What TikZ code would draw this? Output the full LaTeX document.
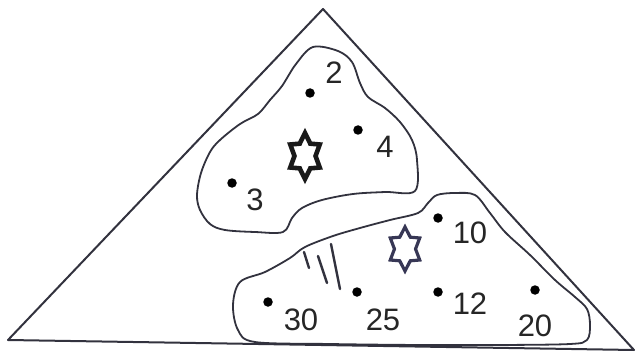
\documentclass[tikz,border=0pt]{standalone}
\usepackage{fontspec}
\setmainfont{Liberation Sans}
\begin{document}
\begin{tikzpicture}[x=1pt,y=-1pt]
\definecolor{ink}{RGB}{50,50,62}
\definecolor{inkb}{RGB}{55,55,85}
\tikzset{
  edge/.style={draw=ink, line width=2pt, line join=round, line cap=round},
  blob/.style={draw=ink, line width=1.8pt, line join=round},
  hatch/.style={draw=ink, line width=2.4pt, line cap=round},
  pt/.style={circle, fill=black, inner sep=0pt, minimum size=9.5pt},
  num/.style={inner sep=0pt, font=\fontsize{31}{31}\selectfont, text=black!85},
  hexstar/.pic={\draw[pic actions] (90:1) -- (120:0.62) -- (150:1) -- (180:0.62) -- (210:1) -- (240:0.62) -- (270:1) -- (300:0.62) -- (330:1) -- (0:0.62) -- (30:1) -- (60:0.62) -- cycle;}
}
\useasboundingbox (0,0) rectangle (638,353);
% triangle
\coordinate (A) at (323,9);
\coordinate (L) at (8,340);
\coordinate (R) at (634,350);
\draw[edge] (A) -- (L) -- (R) -- cycle;
% upper blob
\draw[blob] plot[smooth cycle, tension=0.55] coordinates {
 (313,47) (338,51) (352,62) (360,83) (368,97) (385,108) (400,122) (412,140) (417,160) (415,191)
 (385,192) (353,194) (322,200) (302,208) (292,218) (283,232) (255,232) (225,230) (210,224)
 (200,210) (197,195) (201,173) (210,152) (220,140) (240,124) (258,114) (270,100) (282,86) (296,64)};
% lower blob
\draw[blob] plot[smooth cycle, tension=0.55] coordinates {
 (437,195) (455,193) (475,195) (490,213) (505,232) (530,255) (555,280) (575,297) (587,309) (590,325) (587,340)
 (570,344) (500,345) (420,345) (330,344) (255,342) (238,330) (233,305) (240,282) (265,272)
 (290,258) (305,247) (333,236) (360,228) (390,220) (418,213) (428,203)};
% hatching
\draw[hatch] (304,252) -- (309,268);
\draw[hatch] (318,256) -- (327,283);
\draw[hatch] (331,244) -- (340,289);
% stars
\pic[draw=black!90, line width=4.6pt, line join=miter, xscale=17, yscale=23] at (305,156) {hexstar};
\pic[draw=inkb, line width=3.2pt, line join=miter, xscale=17, yscale=22] at (405,249) {hexstar};
% dots and labels
\node[pt] (d2) at (310,93) {};
\node[num] (l2) at (334,73) {2};
\node[pt] (d4) at (358,130) {};
\node[num] (l4) at (385,147) {4};
\node[pt] (d3) at (232,183) {};
\node[num] (l3) at (255,200) {3};
\node[pt] (d10) at (438,218) {};
\node[num] (l10) at (470,233) {10};
\node[pt] (d12) at (438,292) {};
\node[num] (l12) at (470,304) {12};
\node[pt] (d25) at (357,292) {};
\node[num] (l25) at (383,320) {25};
\node[pt] (d30) at (268,302) {};
\node[num] (l30) at (301,320) {30};
\node[pt] (d20) at (535,290) {};
\node[num] (l20) at (535,326) {20};
\end{tikzpicture}
\end{document}
